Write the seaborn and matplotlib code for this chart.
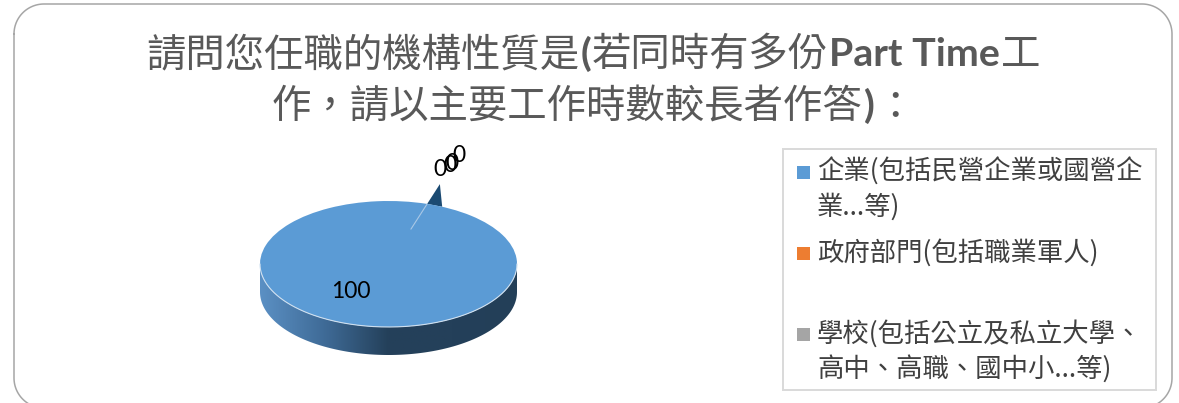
import numpy as np
import matplotlib
matplotlib.use('Agg')
import matplotlib.pyplot as plt
from matplotlib.colors import LinearSegmentedColormap
from matplotlib.patches import Rectangle, Polygon
import seaborn as sns

# Data
slice_values = [100, 0, 0, 0, 0]
legend_labels = [
    '企業(包括民營企業或國營企\n業...等)',
    '政府部門(包括職業軍人)',
    '學校(包括公立及私立大學、\n高中、高職、國中小...等)',
]
title_line1 = [('請問您任職的機構性質是', False), ('(', True), ('若同時有多份', False),
               ('Part Time', True), ('工', False)]
title_line2 = [('作\uff0c請以主要工作時數較長者作答', False), (')', True), ('\uff1a', False)]

sns.set_theme(style='white')
cjk = ['Noto Sans CJK TC', 'DejaVu Sans']
plt.rcParams['font.family'] = cjk
palette = sns.color_palette(['#5B9BD5', '#ED7D31', '#A5A5A5', '#FFC000', '#4472C4'])

W, H = 1179, 403
fig = plt.figure(figsize=(W / 100, H / 100), dpi=100, facecolor='white')

# Pixel layer for frame, title and legend
page = fig.add_axes([0, 0, 1, 1], zorder=3)
page.set_xlim(0, W)
page.set_ylim(H, 0)
page.axis('off')
page.patch.set_alpha(0)

# Rounded frame, runs off the bottom of the picture
x0, x1, y0, y1, r = 14, 1172, 4, 408, 30
arc = np.linspace(0, np.pi / 2, 30)
frame_x = np.r_[x0 + r - r * np.cos(arc), x1 - r + r * np.sin(arc),
                x1 - r + r * np.cos(arc), x0 + r - r * np.sin(arc), x0]
frame_y = np.r_[y0 + r - r * np.sin(arc), y0 + r - r * np.cos(arc),
                y1 - r + r * np.sin(arc), y1 - r + r * np.cos(arc), y0 + r]
page.plot(frame_x, frame_y, color='#a6a6a6', lw=1.1)


def draw_title(runs, baseline):
    renderer = fig.canvas.get_renderer()
    texts = []
    total = 0
    for s, bold in runs:
        if bold:
            t = page.text(0, baseline, s, fontsize=28.4, family='Lato', weight='bold', color='#595959')
        else:
            t = page.text(0, baseline, s, fontsize=28.4, family=cjk, color='#595959')
        w = t.get_window_extent(renderer).width
        texts.append((t, w))
        total += w + 1
    x = 594 - total / 2
    for t, w in texts:
        t.set_x(x)
        x += w + 1


draw_title(title_line1, 66)
draw_title(title_line2, 118)

# Pie: one radius unit maps onto the ellipse radii below
cx, cy, rx, ry = 388.5, 264, 128.5, 63
depth = 28 / ry
span = 1.7
ax = fig.add_axes([(cx - 1.25 * rx) / W, 1 - (cy + span * ry) / H, 2.5 * rx / W, 2 * span * ry / H], zorder=2)
start_angle = 72.5
wedges, _ = ax.pie(slice_values, colors=palette, startangle=start_angle, counterclock=True,
                   wedgeprops=dict(linewidth=0, zorder=5))
for w, v in zip(wedges, slice_values):
    if v == 0:
        w.set_visible(False)
ax.set_aspect('auto')

# Side of the pie with a left to right shade
t = np.linspace(np.pi, 2 * np.pi, 200)
band = np.vstack([np.c_[np.cos(t), np.sin(t) - depth],
                  np.c_[np.cos(t[::-1]), np.sin(t[::-1])]])
shade = LinearSegmentedColormap.from_list('side', ['#5b90c4', '#3f6b97', '#24405a', '#24405a', '#233f58'])
img = ax.imshow(np.linspace(0, 1, 256)[None, :], cmap=shade, extent=(-1, 1, -1 - depth, 0),
                aspect='auto', zorder=1)
ax.set_xlim(-1.25, 1.25)
ax.set_ylim(-span, span)
band_patch = Polygon(band, transform=ax.transData, fc='none', ec='none')
ax.add_patch(band_patch)
img.set_clip_path(band_patch)

# Light bevel along the front rim
ax.plot(np.cos(t), np.sin(t), color='#cfe0f0', lw=0.8, zorder=6)

# Exploded zero slices: only a sliver shows above the rim, on the slice angle
rim_a = np.deg2rad(start_angle)
rim_b = np.deg2rad(65.3)
tip_reach = 1.33
hub_reach = 0.58
tip = (tip_reach * np.cos(rim_a), tip_reach * np.sin(rim_a))
hub = (hub_reach * np.cos(rim_a), hub_reach * np.sin(rim_a))
rim_start = (np.cos(rim_a), np.sin(rim_a))
rim_end = (np.cos(rim_b), np.sin(rim_b))
ax.add_patch(Polygon([rim_start, tip, rim_end], fc='#1b4a72', ec='none', zorder=2))
ax.plot([hub[0], rim_start[0]], [hub[1], rim_start[1]], color='#a9c8e6', lw=0.8, zorder=6)

# Value labels
label_pos = [(351, 292), (440, 170), (450, 165), (452, 164), (459, 155)]
for v, (x, y) in zip(slice_values, label_pos):
    page.text(x, y, str(v), family='Lato', fontsize=16.5, color='black', ha='center', va='center')

# Legend
page.add_patch(Rectangle((783, 149), 373, 241, fc='white', ec='#d9d9d9', lw=1.4, zorder=0))
legend_y = [172, 253, 334]
for label, c, y in zip(legend_labels, palette, legend_y):
    page.add_patch(Rectangle((797, y - 6.5), 13, 13, fc=c, ec='none'))
    for i, line in enumerate(label.split('\n')):
        page.text(817, y + i * 35, line, fontsize=19, family=cjk, color='#404040', va='center')

fig.savefig('out.png', dpi=100, facecolor='white')
